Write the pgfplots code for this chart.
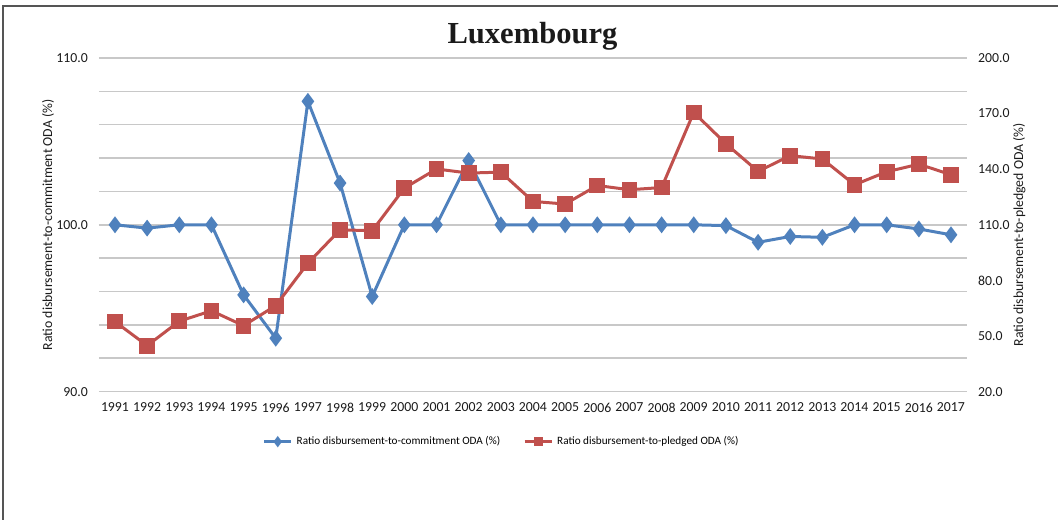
\documentclass[border=0pt]{standalone}
\usepackage{pgfplots}
\pgfplotsset{compat=1.18}
\usepackage{fontspec}
\setmainfont{Carlito}
\newfontfamily\titlefont{Liberation Serif}

\definecolor{lineBlue}{HTML}{4F81BD}
\definecolor{lineRed}{HTML}{C0504D}
\definecolor{gridGray}{HTML}{C8C8C8}
\definecolor{frameGray}{HTML}{555555}
\definecolor{inkText}{HTML}{1A1A1A}

% ratio disbursement-to-commitment (left axis)
\pgfplotstableread{
year ratio
1991 100.0
1992 99.8
1993 100.0
1994 100.0
1995 95.8
1996 93.2
1997 107.4
1998 102.5
1999 95.7
2000 100.0
2001 100.0
2002 103.85
2003 100.0
2004 100.0
2005 100.0
2006 100.0
2007 100.0
2008 100.0
2009 100.0
2010 99.95
2011 98.95
2012 99.3
2013 99.25
2014 100.0
2015 100.0
2016 99.75
2017 99.4
}\commitdata

% ratio disbursement-to-pledged (right axis)
\pgfplotstableread{
year ratio
1991 57.8
1992 44.8
1993 58.0
1994 63.6
1995 55.6
1996 66.4
1997 89.3
1998 107.3
1999 106.8
2000 129.8
2001 140.1
2002 137.9
2003 138.4
2004 122.6
2005 121.2
2006 131.2
2007 128.9
2008 130.1
2009 170.6
2010 153.7
2011 138.8
2012 147.3
2013 145.5
2014 131.6
2015 138.6
2016 142.7
2017 137.0
}\pledgedata

\pgfplotsset{
  luxbase/.style={
    scale only axis, width=434.5pt, height=167pt,
    at={(49.5pt,64pt)}, anchor=south west,
    xmin=1990.5, xmax=2017.5,
    axis line style={draw=none},
    tick style={draw=none},
    tick label style={font=\fontsize{6.9}{8}\selectfont, text=inkText},
    label style={font=\fontsize{6.9}{8}\selectfont, text=inkText},
    /pgf/number format/assume math mode=true,
    yticklabel style={/pgf/number format/fixed, /pgf/number format/fixed zerofill,
      /pgf/number format/precision=1},
  }
}

\begin{document}
\begin{tikzpicture}[x=1pt,y=1pt]
\path (0,0) rectangle (529.5,260);
\draw[frameGray, line width=1pt] (1.75,0) -- (1.75,257) -- (529.5,257);
\node[font=\titlefont\bfseries\fontsize{15.3}{18}\selectfont, text=inkText] at (266.5,242) {Luxembourg};

\begin{axis}[luxbase,
  ymin=90, ymax=110,
  ytick={90,100,110}, minor ytick={92,94,...,108},
  ymajorgrids, yminorgrids,
  major grid style={gridGray, line width=0.8pt},
  minor grid style={gridGray, line width=0.8pt},
  xtick={1991,...,2017},
  xticklabel={\pgfmathprintnumber[set thousands separator={},fixed]{\tick}},
  yticklabel style={xshift=-2pt},
  xticklabel style={yshift=-2pt},
  ylabel={Ratio disbursement-to-commitment ODA (\%)},
  ylabel style={at={(axis description cs:-0.0587,0.5)}, anchor=center},
  legend style={draw=none, fill=none, font=\fontsize{5.6}{7}\selectfont,
    at={(0.465,-0.15)}, anchor=center, legend columns=2,
    /tikz/every even column/.append style={column sep=9.5pt}},
  legend cell align=left,
  legend image code/.code={
    \draw[#1, mark=none] (0pt,0pt) -- (13.5pt,0pt);
    \draw[#1, mark size=1.6pt] plot coordinates {(6.75pt,0pt)};
  },
]
\addplot[lineBlue, line width=1.5pt, mark=diamond*, mark size=3pt,
  mark options={solid, fill=lineBlue, draw=lineBlue}] table[x=year, y=ratio] {\commitdata};
\addlegendentry{Ratio disbursement-to-commitment ODA (\%)}
\addlegendimage{lineRed, line width=1.5pt, mark=square*, mark size=1.2pt,
  mark options={solid, fill=lineRed, draw=lineRed}}
\addlegendentry{Ratio disbursement-to-pledged ODA (\%)}
\end{axis}

\begin{axis}[luxbase,
  ymin=20, ymax=200,
  ytick={20,50,...,200},
  axis y line*=right, axis x line=none,
  yticklabel style={xshift=2pt},
  ylabel={Ratio disbursement-to-pledged ODA (\%)},
  ylabel style={at={(axis description cs:1.06,0.47)}, anchor=center, rotate=0},
]
\addplot[lineRed, line width=1.5pt, mark=square*, mark size=3.2pt,
  mark options={solid, fill=lineRed, draw=lineRed}] table[x=year, y=ratio] {\pledgedata};
\end{axis}
\end{tikzpicture}
\end{document}
